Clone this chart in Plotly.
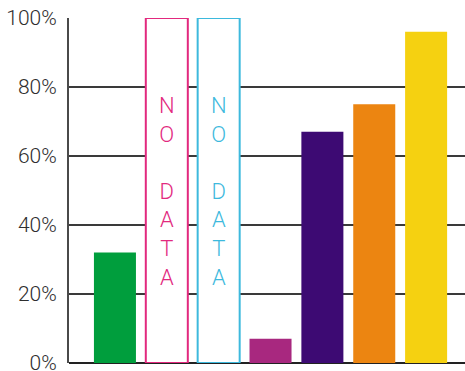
import plotly.graph_objects as go

# data
categories = ['A', 'B', 'C', 'D', 'E', 'F', 'G']
values = [32, 100, 100, 7, 67, 75, 96]
no_data = [False, True, True, False, False, False, False]
bar_colors = ['#009E3D', '#E2297E', '#3DB9DD', '#A8287F', '#3D0A73', '#EC8511', '#F5D111']
tick_vals = [0, 20, 40, 60, 80, 100]
tick_text = ['0%', '20%', '40%', '60%', '80%', '100%']
no_data_label = 'N<br>O<br> <br>D<br>A<br>T<br>A'

FONT = 'Roboto'

fig = go.Figure()

fig.add_trace(go.Bar(
    x=categories,
    y=values,
    width=0.81,
    marker=dict(
        color=['white' if nd else c for nd, c in zip(no_data, bar_colors)],
        line=dict(color=bar_colors, width=[2 if nd else 0 for nd in no_data]),
    ),
    hoverinfo='skip',
))

for cat, nd, c in zip(categories, no_data, bar_colors):
    if nd:
        fig.add_annotation(
            x=cat, y=49.8, text=no_data_label, showarrow=False,
            font=dict(family=FONT, size=22, color=c, weight=300),
            align='center',
        )

fig.update_layout(
    width=465, height=371,
    margin=dict(l=69, r=0, t=18, b=8, autoexpand=False),
    paper_bgcolor='white',
    plot_bgcolor='white',
    showlegend=False,
    font=dict(family=FONT, size=21, color='#333333'),
    xaxis=dict(
        range=[-0.886, 6.75],
        showticklabels=False,
        showgrid=False,
        zeroline=False,
        showline=False,
        ticks='',
        automargin=False,
    ),
    yaxis=dict(
        range=[0, 100],
        tickvals=tick_vals,
        ticktext=tick_text,
        showgrid=True,
        gridcolor='#3a3a3a',
        gridwidth=2,
        zeroline=True,
        zerolinecolor='#222222',
        zerolinewidth=2,
        showline=True,
        linecolor='#4a4a4a',
        linewidth=2,
        ticks='',
        ticklabelstandoff=6,
        ticklabeloverflow='allow',
        automargin=False,
        tickfont=dict(family=FONT, size=21, color='#2e2e2e', weight=300),
    ),
)

# the page body has a default 8px margin; drop it so the figure sits at 0,0
fig.write_html('out.html',
               config={'displayModeBar': False},
               post_script="document.body.style.margin='0';document.body.style.overflow='hidden';")
